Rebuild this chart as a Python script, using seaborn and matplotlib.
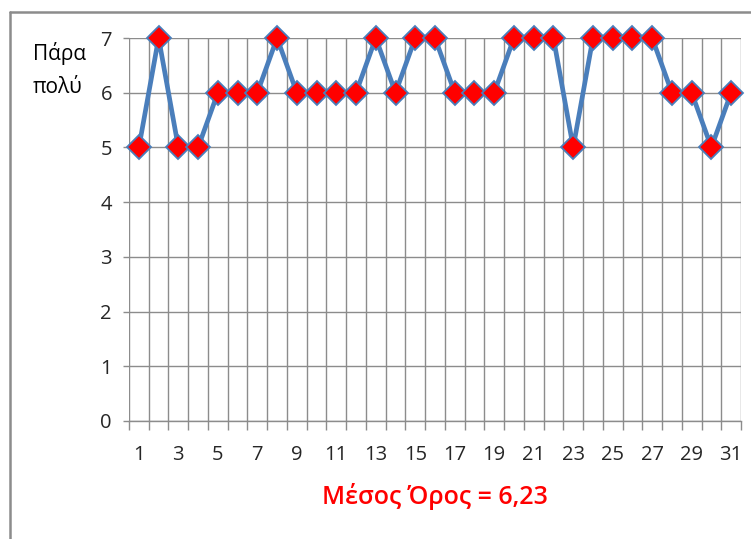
import matplotlib.pyplot as plt
import seaborn as sns
from matplotlib.lines import Line2D
from matplotlib.ticker import MultipleLocator

days = list(range(1, 32))
scores = [5, 7, 5, 5, 6, 6, 6, 7, 6, 6, 6, 6, 7, 6, 7, 7, 6, 6, 6, 7,
          7, 7, 5, 7, 7, 7, 7, 6, 6, 5, 6]
xtick_labels = [str(d) for d in days if d % 2 == 1]
mean_text = "Μέσος Όρος = 6,23"
ylabel_text = "Πάρα\nπολύ"

sns.set_theme(style="white")
plt.rcParams["font.family"] = ["Open Sans", "DejaVu Sans"]

fig = plt.figure(figsize=(7.51, 5.39), dpi=100)
ax = fig.add_axes([129 / 751, 1 - 421 / 539, (741 - 129) / 751, (421 - 38) / 539])

sns.lineplot(x=days, y=scores, ax=ax, color="#4a7ebb", linewidth=3.4,
             marker="D", markersize=12.5, markerfacecolor="red",
             markeredgecolor="#4a7ebb", markeredgewidth=1.3, zorder=3,
             clip_on=False)

ax.set_xlim(0.5, 31.5)
ax.set_ylim(0, 7)
ax.set_xticks([d for d in days if d % 2 == 1])
ax.set_xticklabels(xtick_labels)
ax.xaxis.set_minor_locator(MultipleLocator(1, offset=0.5))
ax.set_yticks(range(0, 8))
ax.tick_params(axis="x", which="major", length=0, pad=17, labelsize=14.5, labelcolor="#262626")
ax.tick_params(axis="x", which="minor", length=6.5, width=1, color="#8c8c8c", direction="out", bottom=True)
ax.tick_params(axis="y", length=4.3, width=1, color="#8c8c8c", pad=8, labelsize=14.5, labelcolor="#262626", left=True)
ax.grid(True, which="minor", axis="x", color="#8c8c8c", linewidth=1)
ax.grid(True, which="major", axis="y", color="#8c8c8c", linewidth=1)
ax.grid(False, which="major", axis="x")
for s in ["top", "right", "left"]:
    ax.spines[s].set_visible(False)
ax.spines["bottom"].set_color("#8c8c8c")
ax.spines["bottom"].set_linewidth(1)
ax.set_xlabel("")
ax.set_ylabel("")

fig.text(33 / 751, 1 - 70 / 539, ylabel_text, ha="left", va="center",
         fontsize=15, color="#000000", linespacing=1.75)
fig.text(435 / 751, 1 - 496 / 539, mean_text, ha="center", va="center",
         fontsize=18, color="red", fontweight="semibold")

frame_x = 9.5 / 751
frame_y = 1 - 11.5 / 539
fig.add_artist(Line2D([frame_x, frame_x], [0, frame_y], transform=fig.transFigure,
                      color="#8c8c8c", linewidth=1.8))
fig.add_artist(Line2D([frame_x, 1], [frame_y, frame_y], transform=fig.transFigure,
                      color="#8c8c8c", linewidth=1.8))

plt.savefig("out.png", dpi=100)
